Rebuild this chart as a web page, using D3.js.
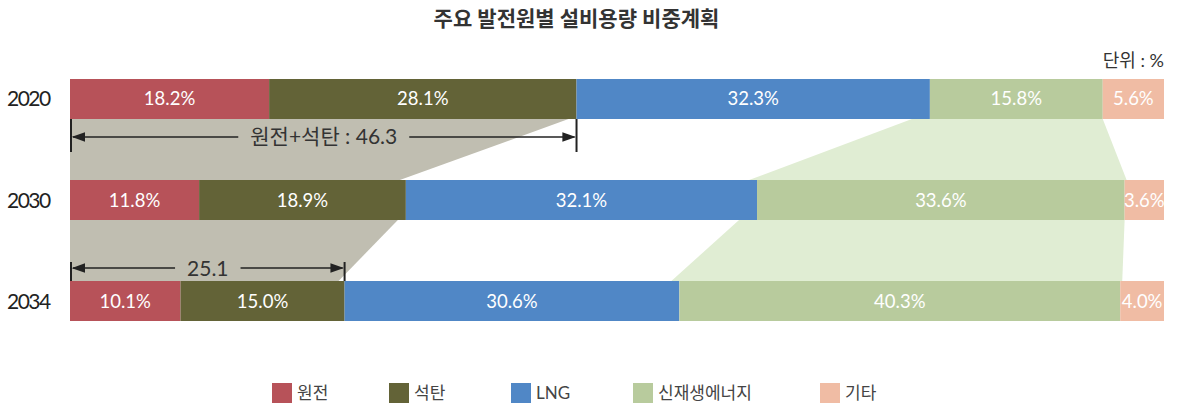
<!DOCTYPE html>
<html>
<head>
<meta charset="utf-8">
<script src="https://cdn.jsdelivr.net/npm/d3@7"></script>
<style>
  body { margin: 0; background: #fff; }
  svg { font-family: Lato, "Noto Sans CJK KR", sans-serif; }
</style>
</head>
<body>
<svg id="chart" width="1177" height="404"></svg>
<script>
const years = ["2020", "2030", "2034"];
const sources = ["원전", "석탄", "LNG", "신재생에너지", "기타"];
const colors = ["#b75259", "#636337", "#5087c6", "#b8cb9d", "#f0bca4"];
const nuclear = [18.2, 11.8, 10.1];
const coal = [28.1, 18.9, 15.0];
const lng = [32.3, 32.1, 30.6];
const renew = [15.8, 33.6, 40.3];
const other = [5.6, 3.6, 4.0];
const dims = [{ year: "2020", label: "원전+석탄 : 46.3" }, { year: "2034", label: "25.1" }];

const series = [nuclear, coal, lng, renew, other];
const rows = years.map((y, i) => {
    let r = { year: y };
    sources.forEach((s, j) => r[s] = series[j][i]);
    return r;
});
const stacked = d3.stack().keys(sources)(rows);

const svg = d3.select("#chart");
const margin = { left: 70, right: 13 };
const width = 1177;

const x = d3.scaleLinear().domain([0, 100]).range([margin.left, width - margin.right]);
const y = d3.scaleBand().domain(years).range([79, 321]).paddingInner(0.604).paddingOuter(0);
const color = d3.scaleOrdinal().domain(sources).range(colors);

// title
svg.append("text")
    .attr("x", width / 2 - 12).attr("y", 26)
    .attr("text-anchor", "middle")
    .attr("font-size", 21).attr("font-weight", "bold").attr("fill", "#333")
    .text("주요 발전원별 설비용량 비중계획");

svg.append("text")
    .attr("x", width - margin.right).attr("y", 67)
    .attr("text-anchor", "end")
    .attr("font-size", 18).attr("fill", "#333")
    .text("단위 : %");

// connecting bands between bars
const bandLayer = svg.append("g");
const coalLayer = stacked[1], renewLayer = stacked[3];
for (let i = 0; i < years.length - 1; i++) {
    const y0 = y(years[i]) + y.bandwidth(), y1 = y(years[i + 1]);
    const a = coalLayer[i], b = coalLayer[i + 1];
    bandLayer.append("path")
        .attr("d", d3.line()([[x(0), y0], [x(a[1]) - 8, y0], [x(b[1]) - 6, y1], [x(0), y1]]))
        .attr("fill", "#c0beb1");
    const c = renewLayer[i], d = renewLayer[i + 1];
    bandLayer.append("path")
        .attr("d", d3.line()([[x(c[0]) - 18, y0], [x(c[1]), y0], [x(d[1]) + 2, y1], [x(d[0]) - 8, y1]]))
        .attr("fill", "#e0edd3");
}

// bars
const g = svg.append("g");
g.selectAll("g.layer")
    .data(stacked)
    .join("g")
    .attr("class", "layer")
    .attr("fill", d => color(d.key))
    .selectAll("rect")
    .data(d => d)
    .join("rect")
    .attr("x", d => x(d[0]))
    .attr("y", d => y(d.data.year))
    .attr("width", d => x(d[1]) - x(d[0]))
    .attr("height", y.bandwidth());

g.selectAll("g.lbl")
    .data(stacked)
    .join("g")
    .attr("class", "lbl")
    .selectAll("text")
    .data(d => d.map(v => ({ v, key: d.key })))
    .join("text")
    .attr("x", d => (x(d.v[0]) + x(d.v[1])) / 2)
    .attr("y", d => y(d.v.data.year) + y.bandwidth() / 2 + 6.5)
    .attr("text-anchor", "middle")
    .attr("font-size", 18.5).attr("fill", "#fff")
    .text(d => d.v.data[d.key].toFixed(1) + "%");

// year labels
svg.append("g").selectAll("text")
    .data(years)
    .join("text")
    .attr("x", 7)
    .attr("y", d => y(d) + y.bandwidth() / 2 + 7.5)
    .attr("font-size", 21).attr("letter-spacing", "-1.5px").attr("fill", "#222")
    .text(d => d);

// dimension arrows
svg.append("defs").append("marker")
    .attr("id", "arr").attr("viewBox", "0 0 10 10")
    .attr("refX", 9).attr("refY", 5)
    .attr("markerWidth", 9).attr("markerHeight", 9)
    .attr("orient", "auto-start-reverse")
    .append("path").attr("d", "M0,1.5L10,5L0,8.5Z").attr("fill", "#222");

dims.forEach(dm => {
    const i = years.indexOf(dm.year);
    const x0 = x(0) + 1, x1 = x(coalLayer[i][1]);
    let top, bot, ay;
    if (i === 0) { top = y(dm.year) + y.bandwidth(); bot = top + 33; ay = top + 18; }
    else { bot = y(dm.year); top = bot - 19; ay = bot - 13; }
    const dg = svg.append("g").attr("stroke", "#222");
    [x0, x1].forEach(xx => dg.append("line")
        .attr("x1", xx).attr("x2", xx).attr("y1", top).attr("y2", bot)
        .attr("stroke-width", 2));
    const t = svg.append("text")
        .attr("x", (x0 + x1) / 2).attr("y", ay + 7.5)
        .attr("text-anchor", "middle")
        .attr("font-size", 21).attr("fill", "#333")
        .text(dm.label);
    const tw = t.node().getComputedTextLength();
    const cx = (x0 + x1) / 2;
    dg.append("line").attr("x1", cx - tw / 2 - 12).attr("x2", x0 + 2)
        .attr("y1", ay).attr("y2", ay).attr("stroke-width", 1.5).attr("marker-end", "url(#arr)");
    dg.append("line").attr("x1", cx + tw / 2 + 12).attr("x2", x1 - 2)
        .attr("y1", ay).attr("y2", ay).attr("stroke-width", 1.5).attr("marker-end", "url(#arr)");
});

// legend
const legX = [272, 389, 511, 633, 820];
const leg = svg.append("g").selectAll("g")
    .data(sources)
    .join("g")
    .attr("transform", (d, i) => `translate(${legX[i]},383)`);
leg.append("rect").attr("width", 20).attr("height", 20).attr("fill", d => color(d));
leg.append("text").attr("x", 25).attr("y", 16)
    .attr("font-size", 17).attr("fill", "#444")
    .text(d => d);
</script>
</body>
</html>
